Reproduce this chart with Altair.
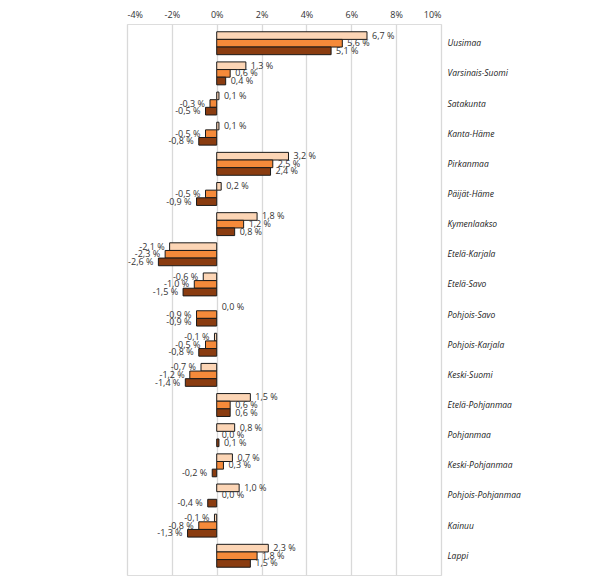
import altair as alt
import pandas as pd

regions = ["Uusimaa", "Varsinais-Suomi", "Satakunta", "Kanta-Häme", "Pirkanmaa",
           "Päijät-Häme", "Kymenlaakso", "Etelä-Karjala", "Etelä-Savo", "Pohjois-Savo",
           "Pohjois-Karjala", "Keski-Suomi", "Etelä-Pohjanmaa", "Pohjanmaa",
           "Keski-Pohjanmaa", "Pohjois-Pohjanmaa", "Kainuu", "Lappi"]
series_names = ["Sarja 1", "Sarja 2", "Sarja 3"]
s1 = [6.7, 1.3, 0.1, 0.1, 3.2, 0.2, 1.8, -2.1, -0.6, 0.0, -0.1, -0.7, 1.5, 0.8, 0.7, 1.0, -0.1, 2.3]
s2 = [5.6, 0.6, -0.3, -0.5, 2.5, -0.5, 1.2, -2.3, -1.0, -0.9, -0.5, -1.2, 0.6, 0.0, 0.3, 0.0, -0.8, 1.8]
s3 = [5.1, 0.4, -0.5, -0.8, 2.4, -0.9, 0.8, -2.6, -1.5, -0.9, -0.8, -1.4, 0.6, 0.1, -0.2, -0.4, -1.3, 1.5]
colors = ["#FCD5B5", "#F58A3A", "#8A3C10"]
x_ticks = [-4, -2, 0, 2, 4, 6, 8, 10]

rows = []
for name, vals in zip(series_names, [s1, s2, s3]):
    for r, v in zip(regions, vals):
        rows.append({"region": r, "series": name, "v": v})
df = pd.DataFrame(rows)

y = alt.Y("region:N", sort=regions,
          scale=alt.Scale(paddingInner=0.24, paddingOuter=0.2575),
          axis=alt.Axis(orient="right", title=None, ticks=False, domain=False,
                        labelPadding=6, labelFontStyle="italic", labelFontSize=8.5,
                        labelFont="Open Sans", labelColor="#1a1a1a"))
yo = alt.YOffset("series:N", sort=series_names, scale=alt.Scale(paddingInner=0, paddingOuter=0))
x = alt.X("v:Q", scale=alt.Scale(domain=[-4, 10], nice=False, zero=False),
          axis=alt.Axis(orient="top", values=x_ticks, title=None, ticks=False, domain=False,
                        labelExpr="datum.value + '%'", labelFont="Open Sans",
                        labelFontSize=9, labelColor="#333333", labelPadding=5,
                        grid=True, gridColor="#d9d9d9", gridWidth=1.3))

base = alt.Chart(df).encode(y=y, yOffset=yo)

bars = base.mark_bar(stroke="#1a1a1a", strokeWidth=1).encode(
    x=x, x2=alt.datum(0),
    color=alt.Color("series:N", sort=series_names,
                    scale=alt.Scale(domain=series_names, range=colors), legend=None),
    strokeOpacity=alt.condition("datum.v == 0", alt.value(0), alt.value(1)),
)

lbl = "replace(replace(format(datum.v, '.1f'), '.', ','), '\u2212', '-') + ' %'"
pos = base.transform_filter("datum.v >= 0").transform_calculate(lbl=lbl).mark_text(
    align="left", baseline="middle", dx=5, font="Open Sans", fontSize=9, color="#333333"
).encode(x=alt.X("v:Q"), text="lbl:N")
neg = base.transform_filter("datum.v < 0").transform_calculate(lbl=lbl).mark_text(
    align="right", baseline="middle", dx=-5, font="Open Sans", fontSize=9, color="#333333"
).encode(x=alt.X("v:Q"), text="lbl:N")

chart = alt.layer(bars, pos, neg).properties(
    width=314, height=551,
    autosize=alt.AutoSizeParams(type="none"),
    padding={"left": 119, "top": 16, "right": 150, "bottom": 5},
).configure_view(stroke=None).configure(background="white")

chart.save("out.html", embed_options={"renderer": "svg", "actions": False})
